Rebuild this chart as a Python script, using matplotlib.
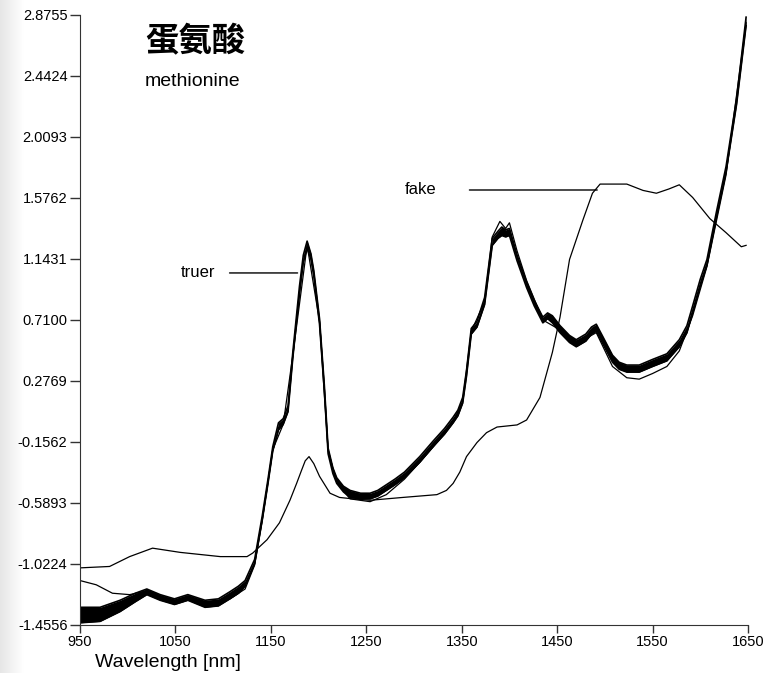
import numpy as np
import matplotlib
matplotlib.use('Agg')
from matplotlib import pyplot as plt

plt.rcParams['font.family'] = ['Liberation Sans', 'DejaVu Sans']

# tick values on the absorbance axis
y_ticks = [-1.4556, -1.0224, -0.5893, -0.1562, 0.2769, 0.7100, 1.1431, 1.5762, 2.0093, 2.4424, 2.8755]
x_ticks = [950, 1050, 1150, 1250, 1350, 1450, 1550, 1650]

# genuine samples: upper and lower edge of the bundle
truer_nm = [950, 971, 992, 1008, 1020, 1034, 1049, 1063, 1081, 1095, 1107, 1116, 1123, 1133, 1141,
            1147, 1152, 1158, 1163, 1168, 1173, 1180, 1184, 1188, 1192, 1195, 1201, 1206, 1210,
            1215, 1219, 1226, 1233, 1244, 1254, 1262, 1271, 1280, 1290, 1306, 1320, 1332, 1341,
            1346, 1351, 1355, 1360, 1366, 1374, 1382, 1388, 1392, 1396, 1400, 1408, 1418, 1426,
            1435, 1440, 1445, 1453, 1463, 1470, 1480, 1486, 1491, 1498, 1508, 1515, 1523, 1536,
            1550, 1565, 1578, 1586, 1592, 1600, 1607, 1617, 1627, 1638, 1648]
truer_hi = [-1.33, -1.33, -1.28, -1.23, -1.20, -1.24, -1.27, -1.24, -1.28, -1.27, -1.22, -1.18, -1.14, -0.99, -0.68,
            -0.42, -0.19, -0.02, 0.01, 0.10, 0.48, 0.95, 1.17, 1.27, 1.18, 1.06, 0.72, 0.25, -0.20,
            -0.34, -0.41, -0.47, -0.50, -0.52, -0.52, -0.50, -0.46, -0.42, -0.37, -0.26, -0.15, -0.06, 0.02,
            0.07, 0.16, 0.35, 0.65, 0.70, 0.87, 1.29, 1.34, 1.37, 1.35, 1.36, 1.17, 0.98, 0.85,
            0.73, 0.76, 0.74, 0.67, 0.60, 0.57, 0.61, 0.66, 0.68, 0.59, 0.46, 0.41, 0.39, 0.39,
            0.43, 0.47, 0.57, 0.67, 0.81, 1.00, 1.14, 1.48, 1.80, 2.28, 2.86]
truer_lo = [-1.44, -1.43, -1.36, -1.29, -1.24, -1.28, -1.31, -1.28, -1.33, -1.32, -1.27, -1.23, -1.18, -1.02, -0.71,
            -0.45, -0.22, -0.07, -0.03, 0.06, 0.44, 0.90, 1.12, 1.22, 1.14, 1.02, 0.68, 0.21, -0.24,
            -0.38, -0.45, -0.51, -0.55, -0.56, -0.56, -0.54, -0.50, -0.46, -0.41, -0.30, -0.19, -0.10, -0.02,
            0.03, 0.12, 0.31, 0.61, 0.66, 0.82, 1.24, 1.29, 1.31, 1.30, 1.31, 1.13, 0.94, 0.81,
            0.69, 0.72, 0.69, 0.62, 0.55, 0.52, 0.56, 0.61, 0.63, 0.54, 0.41, 0.36, 0.34, 0.34,
            0.38, 0.42, 0.52, 0.62, 0.76, 0.95, 1.10, 1.44, 1.76, 2.24, 2.80]

# one genuine sample that sits apart from the rest
stray_nm = [950, 967, 984, 1002, 1015, 1020, 1034, 1049, 1063, 1081, 1107, 1123, 1133, 1141,
            1152, 1163, 1173, 1188, 1201, 1210, 1219, 1233, 1254, 1271, 1290, 1306, 1320, 1341, 1351,
            1360, 1374, 1382, 1390, 1396, 1400, 1408, 1418, 1435, 1453, 1470, 1491, 1508,
            1523, 1536, 1550, 1565, 1578, 1592, 1607, 1627, 1648]
stray = [-1.14, -1.17, -1.23, -1.24, -1.22, -1.21, -1.25, -1.28, -1.25, -1.31, -1.27, -1.20, -1.03, -0.71,
         -0.21, -0.03, 0.46, 1.24, 0.70, -0.22, -0.44, -0.56, -0.58, -0.53, -0.42, -0.30, -0.19, -0.01, 0.13,
         0.63, 0.84, 1.30, 1.41, 1.36, 1.40, 1.20, 0.99, 0.71, 0.64, 0.54, 0.62, 0.38,
         0.30, 0.29, 0.33, 0.38, 0.49, 0.74, 1.09, 1.74, 2.82]

# counterfeit sample
fake_nm = [950, 981, 1002, 1026, 1055, 1097, 1125, 1131, 1146, 1159, 1170, 1177, 1182, 1186, 1190, 1195,
           1201, 1212, 1222, 1236, 1254, 1288, 1324, 1334, 1341, 1348, 1355, 1366, 1376, 1387, 1408, 1418,
           1432, 1445, 1453, 1463, 1477, 1487, 1495, 1523, 1540, 1554, 1567, 1578, 1592,
           1610, 1627, 1643, 1648]
fake = [-1.05, -1.04, -0.97, -0.91, -0.94, -0.97, -0.97, -0.945, -0.85, -0.73, -0.57, -0.45, -0.36, -0.29, -0.26, -0.31,
        -0.40, -0.52, -0.55, -0.56, -0.57, -0.55, -0.53, -0.50, -0.45, -0.37, -0.26, -0.16, -0.09, -0.05, -0.035, 0.0,
        0.16, 0.48, 0.73, 1.14, 1.42, 1.61, 1.675, 1.675, 1.63, 1.61, 1.64, 1.67, 1.58,
        1.43, 1.33, 1.23, 1.24]

fig = plt.figure(figsize=(7.74, 6.73), dpi=100)

# pale shaded strip along the left edge
strip = fig.add_axes([0, 0, 0.03, 1])
strip.imshow(np.linspace(0.9, 1.0, 64).reshape(1, -1), cmap='gray', vmin=0, vmax=1,
             aspect='auto', extent=[0, 1, 0, 1])
strip.axis('off')

ax = fig.add_axes([80 / 774, 48 / 673, 668 / 774, 610 / 673])
ax.set_facecolor('none')

ax.fill_between(truer_nm, truer_lo, truer_hi, color='black', lw=0)
ax.plot(truer_nm, truer_hi, color='black', lw=1.2)
ax.plot(truer_nm, truer_lo, color='black', lw=1.2)
ax.plot(stray_nm, stray, color='black', lw=0.9)
ax.plot(fake_nm, fake, color='black', lw=0.9)

ax.set_xlim(950, 1650)
ax.set_ylim(-1.4556, 2.8755)
ax.set_xticks(x_ticks)
ax.set_xticklabels([str(v) for v in x_ticks])
ax.set_yticks(y_ticks)
ax.set_yticklabels(['%.4f' % v for v in y_ticks])
ax.tick_params(axis='both', direction='out', length=7, width=1, color='#333333',
               labelsize=10.5, pad=2)
ax.tick_params(axis='x', length=6, pad=1)
for side in ['top', 'right']:
    ax.spines[side].set_visible(False)
for side in ['left', 'bottom']:
    ax.spines[side].set_color('#333333')

ax.annotate('truer', xy=(1178, 1.044), xytext=(1056, 1.044), fontsize=12, va='center',
            arrowprops=dict(arrowstyle='-', color='black', lw=1, shrinkA=8, shrinkB=0))
ax.annotate('fake', xy=(1492, 1.633), xytext=(1290, 1.633), fontsize=12, va='center',
            arrowprops=dict(arrowstyle='-', color='black', lw=1, shrinkA=22, shrinkB=0))

fig.text(145 / 774, 1 - 42 / 673, '蛋氨酸', fontsize=24, fontweight='bold',
         family=['Noto Sans CJK SC', 'DejaVu Sans'], va='center')
fig.text(145 / 774, 1 - 82 / 673, 'methionine', fontsize=14, va='center')
fig.text(95 / 774, 6 / 673, 'Wavelength [nm]', fontsize=14, va='baseline')

fig.savefig('out.png', dpi=100)
